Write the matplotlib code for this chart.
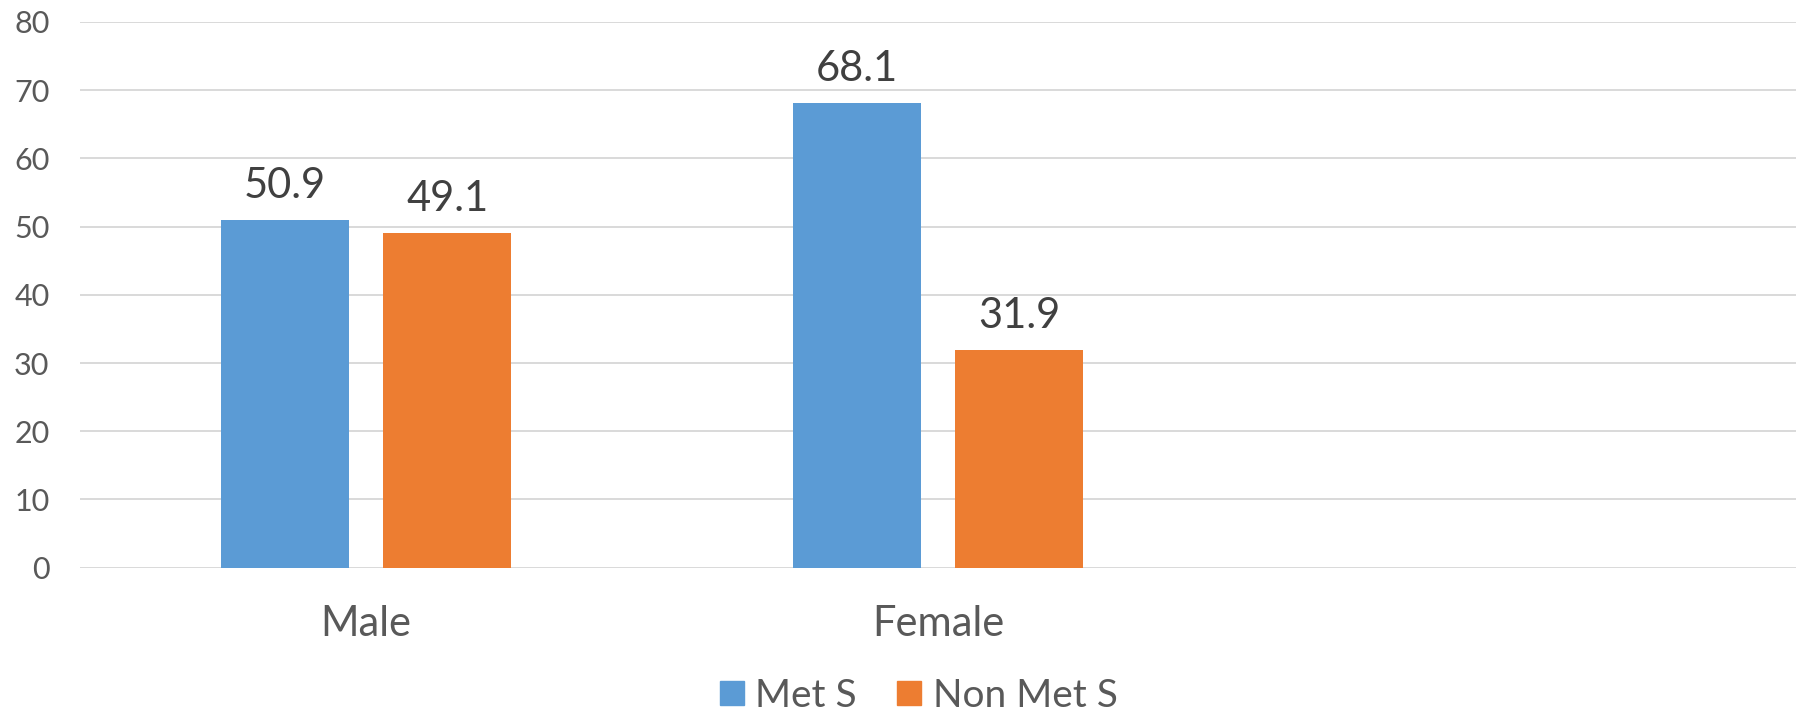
import numpy as np
import matplotlib.pyplot as plt
from matplotlib.lines import Line2D

plt.rcParams['font.family'] = ['Lato', 'DejaVu Sans']

# data
categories = ['Male', 'Female', '']
met_s = [50.9, 68.1, np.nan]
non_met_s = [49.1, 31.9, np.nan]
series_names = ['Met S', 'Non Met S']

blue = '#5B9BD5'
orange = '#ED7D31'
grid_col = '#D9D9D9'

fig = plt.figure(figsize=(18.01, 7.16), dpi=100)
ax = fig.add_axes([0.0444, 0.2071, 0.9528, 0.7622])

x = np.arange(len(categories))
w = 0.224
off = 0.142
b1 = ax.bar(x - off, met_s, width=w, color=blue, zorder=3)
b2 = ax.bar(x + off, non_met_s, width=w, color=orange, zorder=3)

# value labels over the bars
for bars, vals in [(b1, met_s), (b2, non_met_s)]:
    for rect, v in zip(bars, vals):
        if np.isnan(v):
            continue
        ax.annotate(f'{v:.1f}', (rect.get_x() + rect.get_width() / 2, v),
                    xytext=(0, 16), textcoords='offset points',
                    ha='center', va='baseline', fontsize=30, color='#404040')

ax.set_xlim(-0.5, 2.5)
ax.set_ylim(0, 80)
ax.set_yticks(range(0, 81, 10))
ax.set_xticks(x)
ax.set_xticklabels(categories)
ax.yaxis.grid(True, color=grid_col, linewidth=1.4, zorder=0)
ax.tick_params(axis='y', length=0, pad=22, labelsize=22, labelcolor='#595959')
ax.tick_params(axis='x', length=0, pad=27, labelsize=30, labelcolor='#595959')
for s in ax.spines.values():
    s.set_visible(False)

handles = [Line2D([], [], marker='s', linestyle='none', markersize=17.5,
                  markerfacecolor=c, markeredgecolor=c) for c in (blue, orange)]
fig.legend(handles, series_names, loc='center', bbox_to_anchor=(0.5086, 0.028),
           ncol=2, frameon=False, fontsize=28, labelcolor='#595959',
           handletextpad=0.15, columnspacing=0.9, handlelength=0.9)

fig.savefig('out.png', dpi=100, facecolor='white')
